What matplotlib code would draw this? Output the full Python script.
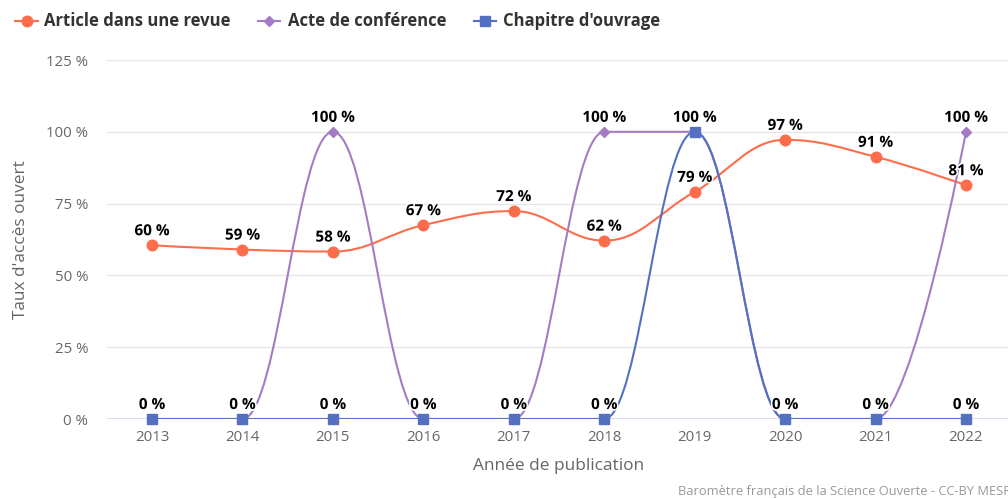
import matplotlib
matplotlib.use("Agg")
import matplotlib.pyplot as plt
from matplotlib.path import Path
from matplotlib.patches import PathPatch
from matplotlib.lines import Line2D
import matplotlib.patheffects as pe

years = ["2013", "2014", "2015", "2016", "2017", "2018", "2019", "2020", "2021", "2022"]
article = [60.5, 59, 58.3, 67.5, 72.4, 62.1, 79.1, 97.2, 91.3, 81.4]
acte = [0, 0, 100, 0, 0, 100, 100, 0, 0, 100]
chapitre = [0, 0, 0, 0, 0, 0, 100, 0, 0, 0]
article_labels = ["60 %", "59 %", "58 %", "67 %", "72 %", "62 %", "79 %", "97 %", "91 %", "81 %"]
acte_labels = ["0 %", "0 %", "100 %", "0 %", "0 %", "100 %", "100 %", "0 %", "0 %", "100 %"]
chapitre_labels = ["0 %", "0 %", "0 %", "0 %", "0 %", "0 %", "100 %", "0 %", "0 %", "0 %"]
yticks = [0, 25, 50, 75, 100, 125]
ytick_labels = ["0 %", "25 %", "50 %", "75 %", "100 %", "125 %"]
series_names = ["Article dans une revue", "Acte de conférence", "Chapitre d'ouvrage"]
colors = ["#fe6d4b", "#a47cc3", "#5470c1"]

FONT = ["Open Sans", "DejaVu Sans"]
plt.rcParams['font.family'] = FONT

W, H = 1008, 498
fig = plt.figure(figsize=(W / 100, H / 100), dpi=100)
left, right = 106.8, 1011.2
top, bottom = 60, 419
ax = fig.add_axes([left / W, (H - bottom) / H, (right - left) / W, (bottom - top) / H])
ax.set_xlim(-0.5, len(years) - 0.5)
ax.set_ylim(0, 125)


def fx(px):
    return px / W


def fy(py):
    return 1 - py / H


def spline_path(xs, ys, smoothing=1.5):
    n = len(xs)
    lc = [(xs[i], ys[i]) for i in range(n)]
    rc = [(xs[i], ys[i]) for i in range(n)]
    denom = smoothing + 1
    for i in range(1, n - 1):
        px, py = xs[i], ys[i]
        lx_, ly_ = xs[i - 1], ys[i - 1]
        nx_, ny_ = xs[i + 1], ys[i + 1]
        lcx = (smoothing * px + lx_) / denom
        lcy = (smoothing * py + ly_) / denom
        rcx = (smoothing * px + nx_) / denom
        rcy = (smoothing * py + ny_) / denom
        if rcx != lcx:
            corr = ((rcy - lcy) * (rcx - px)) / (rcx - lcx) + py - rcy
            lcy += corr
            rcy += corr
        if lcy > max(ly_, py):
            lcy = max(ly_, py)
            rcy = 2 * py - lcy
        elif lcy < min(ly_, py):
            lcy = min(ly_, py)
            rcy = 2 * py - lcy
        if rcy > max(py, ny_):
            rcy = max(py, ny_)
            lcy = 2 * py - rcy
        elif rcy < min(py, ny_):
            rcy = min(py, ny_)
            lcy = 2 * py - rcy
        lc[i] = (lcx, lcy)
        rc[i] = (rcx, rcy)
    verts = [(xs[0], ys[0])]
    codes = [Path.MOVETO]
    for i in range(1, n):
        verts += [rc[i - 1], lc[i], (xs[i], ys[i])]
        codes += [Path.CURVE4] * 3
    return Path(verts, codes)


# grid
for t in yticks:
    if t == 0:
        continue
    ax.axhline(t, color="#e6e6e6", lw=1, zorder=0)
ax.axhline(0, color="#ccd6eb", lw=1.2, zorder=0.5)

xs = list(range(len(years)))
data = [article, acte, chapitre]
markers = ["o", "D", "s"]
msizes = [7.6, 5.0, 7.6]
for k, (vals, col, m, ms) in enumerate(zip(data, colors, markers, msizes)):
    p = spline_path(xs, vals)
    ax.add_patch(PathPatch(p, facecolor="none", edgecolor=col, lw=1.5, zorder=2 + k,
                           capstyle="round", joinstyle="round"))
    ax.plot(xs, vals, linestyle="none", marker=m, color=col, markersize=ms, zorder=2 + k,
            clip_on=False)

outline = [pe.withStroke(linewidth=2.2, foreground="white")]
for vals, labs in zip(data, [article_labels, acte_labels, chapitre_labels]):
    for x, v, lab in zip(xs, vals, labs):
        ax.annotate(lab, (x, v), xytext=(0, 10), textcoords="offset pixels", ha="center",
                    va="baseline", fontsize=11, fontweight="bold", color="black", zorder=10,
                    path_effects=outline, annotation_clip=False)

for s in ax.spines.values():
    s.set_visible(False)
ax.set_xticks(xs)
ax.set_xticklabels(years)
ax.set_yticks(yticks)
ax.set_yticklabels(ytick_labels)
ax.tick_params(axis="both", length=0, colors="#666666", labelsize=10.8)
ax.tick_params(axis="x", pad=8)
ax.tick_params(axis="y", pad=13.5)

# axis titles
fig.text(fx((left + right) / 2), fy(470), "Année de publication", ha="center", va="baseline",
         color="#666666", fontsize=12.4)
fig.text(fx(21), fy((top + bottom) / 2), "Taux d'accès ouvert", ha="center", va="center",
         rotation=90, color="#666666", fontsize=12.4)

# legend (manual placement)
leg_y = fy(21)
sym_ranges = [(15, 38), (258, 280), (474, 496)]
text_x = [44, 288, 503]
for (x0, x1), tx, name, c, m, ms in zip(sym_ranges, text_x, series_names, colors, markers, msizes):
    fig.add_artist(Line2D([fx(x0), fx(x1)], [leg_y, leg_y], color=c, lw=1.5,
                          transform=fig.transFigure))
    fig.add_artist(Line2D([fx((x0 + x1) / 2)], [leg_y], color=c, marker=m, markersize=ms,
                          linestyle="none", transform=fig.transFigure))
    fig.text(fx(tx), leg_y, name, ha="left", va="center", fontsize=12, fontweight="bold",
             color="#333333")

fig.text(fx(678), fy(491), "Baromètre français de la Science Ouverte - CC-BY MESRI", ha="left",
         va="center", fontsize=9.3, color="#999999")

fig.savefig("out.png", dpi=100)
